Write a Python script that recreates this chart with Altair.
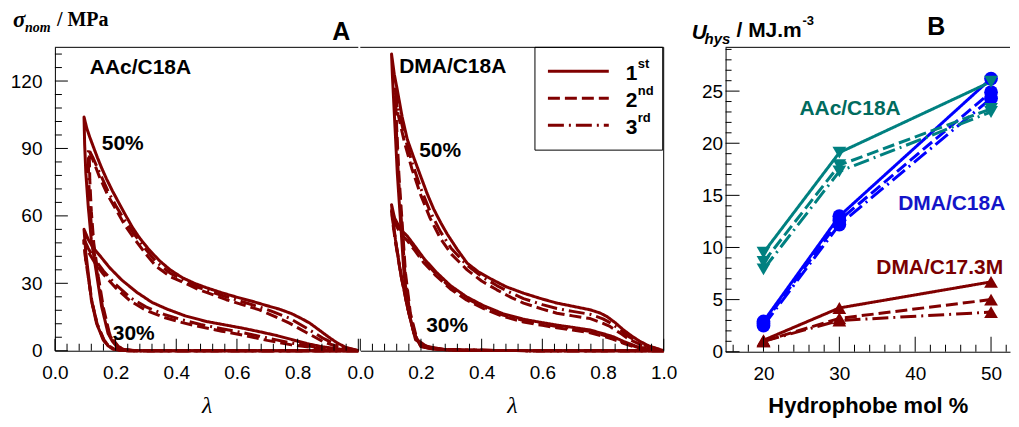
import altair as alt
import pandas as pd

SANS = "Liberation Sans"
SERIF = "Liberation Serif"
MAROON = "#800000"
TEAL = "#008080"
BLUE = "#0000ff"

CYCLES = ["1st", "2nd", "3rd"]
DASHES = [[1, 0], [12, 5], [16, 5, 2, 5]]

# ---------------- Panel A : stress (MPa) vs lambda, (lambda, sigma) pairs ----------------
aac50_1 = [(1.0, 0), (0.5, 0), (0.26, 0), (0.225, 0.5), (0.203, 1.9), (0.188, 4.5), (0.175, 7.8), (0.154, 19.7),
           (0.137, 34.5), (0.12, 49.3), (0.11, 64), (0.102, 79), (0.098, 92), (0.096, 104),
           (0.105, 99), (0.115, 95), (0.126, 91), (0.14, 86), (0.155, 81), (0.17, 76.5), (0.19, 71), (0.21, 66),
           (0.23, 61), (0.255, 55), (0.28, 50), (0.31, 45), (0.345, 40), (0.38, 36), (0.42, 32.5), (0.46, 30),
           (0.5, 28), (0.55, 25.8), (0.6, 23.8), (0.65, 22), (0.7, 20), (0.74, 18.5), (0.78, 16.5), (0.81, 14.5),
           (0.84, 12.3), (0.87, 9.3), (0.9, 6.3), (0.93, 3.5), (0.96, 1.4), (1.0, 0)]
aac50_2 = [(1.0, 0), (0.5, 0), (0.27, 0), (0.232, 0.5), (0.21, 1.8), (0.195, 4.3), (0.18, 7.5), (0.16, 19),
           (0.143, 33), (0.128, 48), (0.12, 62), (0.115, 76), (0.113, 89),
           (0.125, 85), (0.148, 77), (0.175, 69), (0.203, 62.5), (0.23, 56), (0.258, 50.5), (0.3, 43),
           (0.334, 37.5), (0.38, 33), (0.422, 30.5), (0.477, 27), (0.52, 25), (0.565, 22.7), (0.62, 20.4),
           (0.674, 18.2), (0.72, 15.5), (0.773, 12.3), (0.83, 8), (0.883, 4.1), (0.94, 1.4), (1.0, 0)]
aac50_3 = [(1.0, 0), (0.5, 0), (0.265, 0), (0.228, 0.5), (0.207, 1.8), (0.192, 4.3), (0.178, 7.6), (0.157, 19.3),
           (0.14, 34), (0.124, 49), (0.116, 63), (0.111, 77), (0.11, 90),
           (0.125, 86), (0.148, 79), (0.175, 71), (0.203, 64), (0.23, 58), (0.258, 52.5), (0.3, 45),
           (0.334, 39.5), (0.38, 34.5), (0.422, 31.5), (0.477, 28), (0.52, 26), (0.565, 24), (0.62, 21.7),
           (0.674, 19.5), (0.72, 17.3), (0.773, 14.5), (0.83, 10), (0.883, 5.6), (0.94, 1.8), (1.0, 0)]
aac30_1 = [(1.0, 0), (0.5, 0), (0.24, 0), (0.21, 0.3), (0.19, 0.8), (0.175, 2.2), (0.159, 4.9), (0.137, 12.3),
           (0.12, 22.7), (0.11, 34.5), (0.102, 43.5), (0.096, 54),
           (0.11, 49.5), (0.125, 46), (0.15, 42), (0.18, 37), (0.22, 31.5), (0.27, 26), (0.32, 21.5),
           (0.37, 18.5), (0.43, 15.5), (0.5, 13), (0.56, 11.5), (0.62, 10), (0.68, 8.3), (0.73, 6.8),
           (0.78, 5), (0.83, 3.2), (0.88, 1.8), (0.94, 0.7), (1.0, 0)]
aac30_2 = [(1.0, 0), (0.5, 0), (0.245, 0), (0.215, 0.3), (0.195, 0.8), (0.18, 2), (0.163, 4.5), (0.14, 11.5),
           (0.123, 21), (0.112, 31), (0.102, 40), (0.095, 49),
           (0.11, 44), (0.13, 39.5), (0.16, 34), (0.2, 28), (0.25, 22), (0.3, 18), (0.36, 14.8), (0.42, 12.5),
           (0.48, 10.6), (0.55, 8.7), (0.62, 6.9), (0.7, 4.6), (0.78, 2.6), (0.86, 1.2), (0.94, 0.4), (1.0, 0)]
aac30_3 = [(1.0, 0), (0.5, 0), (0.243, 0), (0.213, 0.3), (0.193, 0.8), (0.178, 2.1), (0.161, 4.7), (0.139, 12),
           (0.122, 22), (0.111, 32), (0.101, 41), (0.095, 50),
           (0.11, 45.5), (0.13, 41), (0.16, 35.5), (0.2, 29.5), (0.25, 23.5), (0.3, 19.5), (0.36, 16.2),
           (0.42, 13.7), (0.48, 11.7), (0.55, 9.8), (0.62, 8), (0.7, 5.7), (0.78, 3.4), (0.86, 1.6),
           (0.94, 0.6), (1.0, 0)]

dma50_1 = [(1.0, 0), (0.6, 0), (0.35, 0.2), (0.28, 0.5), (0.24, 1.2), (0.21, 2.2), (0.182, 4.9), (0.16, 16.7),
           (0.144, 34.5), (0.133, 56.7), (0.122, 79), (0.111, 108.6), (0.106, 122), (0.103, 132),
           (0.112, 123), (0.122, 116), (0.138, 104), (0.155, 94), (0.176, 86), (0.198, 78), (0.22, 70),
           (0.242, 63), (0.265, 57), (0.286, 52), (0.32, 45), (0.352, 39), (0.39, 35), (0.43, 32), (0.48, 28.5),
           (0.538, 25.6), (0.6, 23), (0.648, 21.2), (0.7, 19.8), (0.758, 18.2), (0.79, 16.8), (0.813, 15.2),
           (0.84, 12.5), (0.867, 9.3), (0.895, 6.5), (0.92, 4.3), (0.95, 2.2), (1.0, 0)]
dma50_2 = [(1.0, 0), (0.6, 0), (0.35, 0.2), (0.285, 0.5), (0.245, 1.2), (0.215, 2.2), (0.187, 4.9), (0.165, 16.7),
           (0.149, 34.5), (0.138, 56.7), (0.127, 79), (0.119, 102), (0.116, 113),
           (0.125, 105), (0.145, 93), (0.17, 81), (0.2, 69), (0.23, 59), (0.264, 50), (0.3, 43), (0.352, 36),
           (0.4, 31), (0.45, 27.1), (0.5, 23.5), (0.538, 21.2), (0.6, 18.5), (0.648, 16.7), (0.7, 15.5),
           (0.758, 14.3), (0.8, 12.2), (0.823, 10.8), (0.86, 7.5), (0.888, 4.9), (0.94, 1.8), (1.0, 0)]
dma50_3 = [(1.0, 0), (0.6, 0), (0.35, 0.2), (0.283, 0.5), (0.243, 1.2), (0.213, 2.2), (0.185, 4.9), (0.163, 16.7),
           (0.147, 34.5), (0.136, 56.7), (0.125, 79), (0.117, 104), (0.114, 117),
           (0.125, 108), (0.145, 96), (0.17, 84), (0.2, 72), (0.23, 62), (0.264, 53), (0.3, 45.5), (0.352, 38),
           (0.4, 33), (0.45, 29), (0.5, 25.5), (0.538, 23.2), (0.6, 20.5), (0.648, 18.8), (0.7, 17.5),
           (0.758, 16.2), (0.8, 14.2), (0.823, 12.5), (0.86, 9), (0.888, 6), (0.94, 2.2), (1.0, 0)]
dma30_1 = [(1.0, 0), (0.6, 0), (0.35, 0.2), (0.27, 0.5), (0.23, 1), (0.2, 1.9), (0.177, 7.8), (0.155, 19.7),
           (0.133, 34.5), (0.116, 49.3), (0.108, 58), (0.103, 65),
           (0.113, 59), (0.125, 56), (0.14, 53), (0.155, 51), (0.18, 46.5), (0.21, 41), (0.25, 35), (0.297, 29),
           (0.35, 24), (0.407, 20), (0.47, 16.5), (0.538, 14), (0.6, 12.5), (0.648, 11.4), (0.7, 10.4),
           (0.758, 9.2), (0.8, 7.6), (0.834, 6.2), (0.87, 4), (0.911, 1.9), (0.95, 0.7), (1.0, 0)]
dma30_2 = [(1.0, 0), (0.6, 0), (0.35, 0.2), (0.27, 0.5), (0.23, 1), (0.2, 1.9), (0.178, 7.5), (0.156, 19),
           (0.134, 33.5), (0.117, 47.5), (0.108, 56), (0.103, 62),
           (0.113, 57), (0.125, 54), (0.14, 51), (0.155, 49), (0.18, 44.5), (0.21, 39), (0.25, 33.3),
           (0.297, 27.5), (0.35, 22.6), (0.407, 18.7), (0.47, 15.3), (0.538, 12.8), (0.6, 11.3), (0.648, 10.2),
           (0.7, 9.2), (0.758, 8), (0.8, 6.5), (0.834, 5.1), (0.87, 3.2), (0.911, 1.4), (0.95, 0.5), (1.0, 0)]
dma30_3 = [(1.0, 0), (0.6, 0), (0.35, 0.2), (0.27, 0.5), (0.23, 1), (0.2, 1.9), (0.178, 7.6), (0.156, 19.3),
           (0.134, 34), (0.117, 48.3), (0.108, 57), (0.103, 63),
           (0.113, 58), (0.125, 55), (0.14, 52), (0.155, 50), (0.18, 45.5), (0.21, 40), (0.25, 34.1),
           (0.297, 28.2), (0.35, 23.3), (0.407, 19.3), (0.47, 15.9), (0.538, 13.4), (0.6, 11.9), (0.648, 10.8),
           (0.7, 9.8), (0.758, 8.6), (0.8, 7), (0.834, 5.6), (0.87, 3.6), (0.911, 1.6), (0.95, 0.6), (1.0, 0)]

# ---------------- Panel B : hysteresis energy ----------------
MOL = [20, 30, 50]
SYSTEMS = ["DMA/C17.3M", "DMA/C18A", "AAc/C18A"]
SYS_COLORS = [MAROON, BLUE, TEAL]
SYS_SHAPES = ["triangle-up", "circle", "triangle-down"]
aac_u = {"1st": [9.5, 19.1, 25.9], "2nd": [8.6, 17.9, 23.3], "3rd": [7.9, 17.3, 23.0]}
dma_u = {"1st": [2.9, 13.0, 26.2], "2nd": [2.7, 12.6, 24.9], "3rd": [2.5, 12.2, 24.3]}
c17_u = {"1st": [1.1, 4.2, 6.7], "2nd": [1.0, 3.2, 5.0], "3rd": [1.0, 3.0, 3.8]}

# tick positions
A_X_MAJOR = [0.0, 0.2, 0.4, 0.6, 0.8, 1.0]
A_X_LABELS_LEFT = [0.0, 0.2, 0.4, 0.6, 0.8]
A_X_MINOR = [round(i * 0.04, 2) for i in range(26) if i % 5]
A_Y_MAJOR = [0, 30, 60, 90, 120]
A_Y_MINOR = [i * 6 for i in range(23) if i % 5]
B_X_MAJOR = [20, 30, 40, 50]
B_X_MINOR = [v for v in range(16, 53, 2) if v % 10]
B_Y_MAJOR = [0, 5, 10, 15, 20, 25]
B_Y_MINOR = [v for v in range(1, 30) if v % 5]

AW, AH = 304, 304
BW, BH = 285, 305
A_XDOM, A_YDOM = [0, 1], [0, 135]
B_XDOM, B_YDOM = [15, 52.5], [0, 29.2]


def sc(dom):
    return alt.Scale(domain=dom, nice=False, zero=False)


DASH_SCALE = alt.Scale(domain=CYCLES, range=DASHES)


def one():
    return pd.DataFrame({"k": [0]})


def txt(s, x, y, size, weight="bold", style="normal", font=SANS, color="black", align="left"):
    return alt.Chart(one()).mark_text(text=s, align=align, baseline="alphabetic", font=font, fontSize=size,
                                      fontWeight=weight, fontStyle=style, color=color).encode(
        x=alt.value(x), y=alt.value(y))


def hline(x1, x2, y, color="black", width=1, dash=None):
    kw = dict(color=color, strokeWidth=width)
    if dash is not None:
        kw["strokeDash"] = dash
        kw["strokeCap"] = "butt"
    return alt.Chart(one()).mark_rule(**kw).encode(x=alt.value(x1), x2=alt.value(x2), y=alt.value(y))


def vline(x, y1, y2):
    return alt.Chart(one()).mark_rule(color="black", strokeWidth=1).encode(
        x=alt.value(x), y=alt.value(y1), y2=alt.value(y2))


# Inward ticks drawn as rules through the panel's own scales (tick length converted from px to data units)
def xticks(vals, px, xdom, ydom, plot_h, xfield, yfield, xaxis, yaxis):
    span = (ydom[1] - ydom[0]) * px / plot_h
    df = pd.DataFrame({xfield: vals, yfield: [ydom[0]] * len(vals), "t_end": [ydom[0] + span] * len(vals)})
    return alt.Chart(df).mark_rule(color="black", strokeWidth=1).encode(
        x=alt.X(xfield + ":Q", scale=sc(xdom), axis=xaxis),
        y=alt.Y(yfield + ":Q", scale=sc(ydom), axis=yaxis),
        y2="t_end:Q")


def yticks(vals, px, xdom, ydom, plot_w, xfield, yfield, xaxis, yaxis):
    span = (xdom[1] - xdom[0]) * px / plot_w
    df = pd.DataFrame({yfield: vals, xfield: [xdom[0]] * len(vals), "t_end": [xdom[0] + span] * len(vals)})
    return alt.Chart(df).mark_rule(color="black", strokeWidth=1).encode(
        y=alt.Y(yfield + ":Q", scale=sc(ydom), axis=yaxis),
        x=alt.X(xfield + ":Q", scale=sc(xdom), axis=xaxis),
        x2="t_end:Q")


def loops_df(curves):
    rows = []
    for pct, cyc, pts in curves:
        for i, (l, s) in enumerate(pts):
            rows.append(dict(curve=pct + cyc, cycle=cyc, order=i, lam=l, sig=s))
    return pd.DataFrame(rows)


def x_axis(values):
    return alt.Axis(values=values, format=".1f", title="λ", ticks=False, tickSize=0, grid=False,
                    labelPadding=13, labelFlush=False, labelFont=SANS, labelFontSize=19, labelColor="black",
                    domainColor="black", titleFont=SERIF, titleFontStyle="italic", titleFontWeight="normal",
                    titleFontSize=24, titleColor="black", titlePadding=11)


def loops(df, xaxis, yaxis):
    return alt.Chart(df).mark_line(color=MAROON, strokeWidth=3, strokeCap="butt", strokeJoin="round").encode(
        x=alt.X("lam:Q", scale=sc(A_XDOM), axis=xaxis),
        y=alt.Y("sig:Q", scale=sc(A_YDOM), axis=yaxis),
        detail="curve:N",
        strokeDash=alt.StrokeDash("cycle:N", scale=DASH_SCALE, legend=None),
        order="order:Q")


aac_df = loops_df([("50", "3rd", aac50_3), ("50", "2nd", aac50_2), ("50", "1st", aac50_1),
                   ("30", "3rd", aac30_3), ("30", "2nd", aac30_2), ("30", "1st", aac30_1)])
dma_df = loops_df([("50", "3rd", dma50_3), ("50", "2nd", dma50_2), ("50", "1st", dma50_1),
                   ("30", "3rd", dma30_3), ("30", "2nd", dma30_2), ("30", "1st", dma30_1)])

y_axis_a = alt.Axis(values=A_Y_MAJOR, title=None, ticks=False, tickSize=0, grid=False, labelPadding=13,
                    labelFont=SANS, labelFontSize=19, labelColor="black", domainColor="black")
xa_left = x_axis(A_X_LABELS_LEFT)
xa_right = x_axis(A_X_MAJOR)

a_left = alt.layer(
    loops(aac_df, xa_left, y_axis_a),
    xticks(A_X_MAJOR, 12, A_XDOM, A_YDOM, AH, "lam", "sig", xa_left, y_axis_a),
    xticks(A_X_MINOR, 7, A_XDOM, A_YDOM, AH, "lam", "sig", xa_left, y_axis_a),
    yticks(A_Y_MAJOR, 13, A_XDOM, A_YDOM, AW, "lam", "sig", xa_left, y_axis_a),
    yticks(A_Y_MINOR, 7, A_XDOM, A_YDOM, AW, "lam", "sig", xa_left, y_axis_a),
    hline(0, AW, 0),
    txt("σ", -42, -20, 23, style="italic", font=SERIF),
    txt("nom", -30, -15, 14, style="italic", font=SERIF),
    txt("/ MPa", 2, -21, 20, font=SERIF),
    txt("A", 287, -7, 25, align="center"),
    txt("AAc/C18A", 35, 27, 21),
    txt("50%", 47, 103, 21),
    txt("30%", 58, 293, 21),
).properties(width=AW, height=AH)

legend_layers = [alt.Chart(one()).mark_rect(fillOpacity=0, stroke="black", strokeWidth=1).encode(
    x=alt.value(175), x2=alt.value(303), y=alt.value(0), y2=alt.value(103))]
LEG_NUM = ["1", "2", "3"]
LEG_SUP = ["st", "nd", "rd"]
for i, cyc in enumerate(CYCLES):
    yy = 24 + 27 * i
    legend_layers.append(hline(188, 249, yy, color=MAROON, width=3, dash=DASHES[i]))
    legend_layers.append(txt(LEG_NUM[i], 266, yy + 9, 21))
    legend_layers.append(txt(LEG_SUP[i], 278, yy - 3, 13))

a_right = alt.layer(
    loops(dma_df, xa_right, None),
    xticks(A_X_MAJOR, 12, A_XDOM, A_YDOM, AH, "lam", "sig", xa_right, None),
    xticks(A_X_MINOR, 7, A_XDOM, A_YDOM, AH, "lam", "sig", xa_right, None),
    hline(0, AW, 0), vline(AW, 0, AH),
    txt("DMA/C18A", 39, 26, 21),
    txt("50%", 59, 110, 21),
    txt("30%", 66, 285, 21),
    *legend_layers,
).properties(width=AW, height=AH)

# Panel B data frame
rows = []
for sysname, table in [("DMA/C17.3M", c17_u), ("DMA/C18A", dma_u), ("AAc/C18A", aac_u)]:
    for cyc in ["3rd", "2nd", "1st"]:
        for m, u in zip(MOL, table[cyc]):
            rows.append(dict(system=sysname, cycle=cyc, mol=m, U=u, key=sysname + cyc))
bdf = pd.DataFrame(rows)

b_x_axis = alt.Axis(values=B_X_MAJOR, title="Hydrophobe mol %", ticks=False, tickSize=0, grid=False,
                    labelPadding=13, labelFlush=False, labelFont=SANS, labelFontSize=19, labelColor="black",
                    domainColor="black", titleFont=SANS, titleFontWeight="bold", titleFontSize=22,
                    titleColor="black", titlePadding=12)
b_y_axis = alt.Axis(values=B_Y_MAJOR, title=None, ticks=False, tickSize=0, grid=False, labelPadding=3,
                    labelFont=SANS, labelFontSize=19, labelColor="black", domainColor="black")
color_b = alt.Color("system:N", scale=alt.Scale(domain=SYSTEMS, range=SYS_COLORS), legend=None)

b_lines = alt.Chart(bdf).mark_line(strokeWidth=3, strokeCap="butt").encode(
    x=alt.X("mol:Q", scale=sc(B_XDOM), axis=b_x_axis),
    y=alt.Y("U:Q", scale=sc(B_YDOM), axis=b_y_axis),
    color=color_b,
    strokeDash=alt.StrokeDash("cycle:N", scale=DASH_SCALE, legend=None),
    detail="key:N")
b_points = alt.Chart(bdf).mark_point(filled=True, opacity=1, size=190).encode(
    x=alt.X("mol:Q", scale=sc(B_XDOM), axis=b_x_axis),
    y=alt.Y("U:Q", scale=sc(B_YDOM), axis=b_y_axis),
    color=color_b,
    shape=alt.Shape("system:N", scale=alt.Scale(domain=SYSTEMS, range=SYS_SHAPES), legend=None))

panel_b = alt.layer(
    b_lines, b_points,
    xticks(B_X_MAJOR, 15, B_XDOM, B_YDOM, BH, "mol", "U", b_x_axis, b_y_axis),
    xticks(B_X_MINOR, 7, B_XDOM, B_YDOM, BH, "mol", "U", b_x_axis, b_y_axis),
    yticks(B_Y_MAJOR, 14, B_XDOM, B_YDOM, BW, "mol", "U", b_x_axis, b_y_axis),
    yticks(B_Y_MINOR, 6, B_XDOM, B_YDOM, BW, "mol", "U", b_x_axis, b_y_axis),
    hline(0, BW, 0),
    txt("U", -34, -8, 21, style="italic"),
    txt("hys", -21, -3, 15, style="italic"),
    txt("/ MJ.m", 11, -10, 21),
    txt("-3", 77, -22, 13),
    txt("B", 211, -12, 25, align="center"),
    txt("AAc/C18A", 74, 68, 21, color="#006b5e"),
    txt("DMA/C18A", 173, 163, 21, color="#1414c8"),
    txt("DMA/C17.3M", 151, 227, 21, color="#7a0000"),
).properties(width=BW, height=BH)

chart = alt.hconcat(
    alt.hconcat(a_left, a_right, spacing=-15),
    panel_b,
    spacing=14,
).properties(padding={"left": 2, "top": 1, "right": 0, "bottom": 0}).configure_view(stroke=None)

chart.save("out.html", embed_options={"renderer": "svg", "actions": False})
